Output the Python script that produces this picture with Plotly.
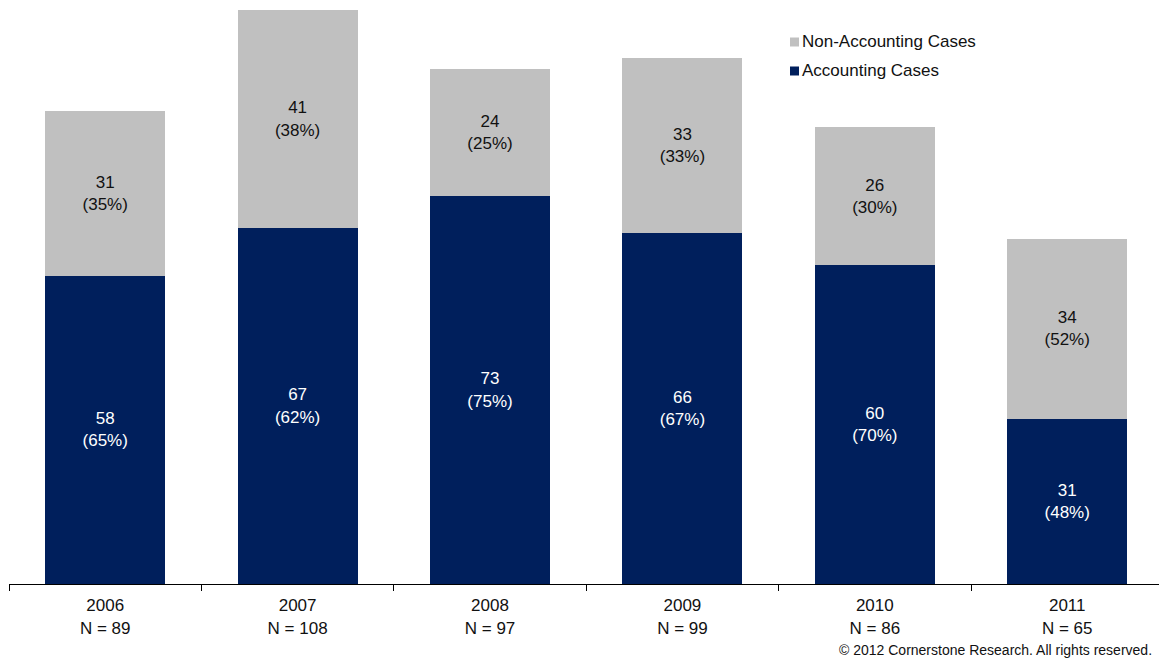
import plotly.graph_objects as go

# Case counts by year
years = ["2006", "2007", "2008", "2009", "2010", "2011"]
accounting = [58, 67, 73, 66, 60, 31]
non_accounting = [31, 41, 24, 33, 26, 34]
accounting_pct = [65, 62, 75, 67, 70, 48]
non_accounting_pct = [35, 38, 25, 33, 30, 52]
totals = [a + n for a, n in zip(accounting, non_accounting)]
tick_labels = [f"{y}<br>N = {t}" for y, t in zip(years, totals)]

NAVY = "#001F5C"
GRAY = "#C0C0C0"
FONT = "Liberation Sans, Arial, sans-serif"
FS = 17

fig = go.Figure()
fig.add_trace(go.Bar(
    x=years, y=accounting, name="Accounting Cases",
    marker=dict(color=NAVY, line=dict(width=0)),
    text=[f"{v}<br>({p}%)" for v, p in zip(accounting, accounting_pct)],
    textposition="inside", insidetextanchor="middle",
    textfont=dict(color="white", size=FS, family=FONT),
    width=0.624, showlegend=False,
))
fig.add_trace(go.Bar(
    x=years, y=non_accounting, name="Non-Accounting Cases",
    marker=dict(color=GRAY, line=dict(width=0)),
    text=[f"{v}<br>({p}%)" for v, p in zip(non_accounting, non_accounting_pct)],
    textposition="inside", insidetextanchor="middle",
    textfont=dict(color="#111111", size=FS, family=FONT),
    width=0.624, showlegend=False,
))

W, H = 1159, 658
ml, mr, mt, mb = 9, 0, 0, 74

fig.update_layout(
    width=W, height=H, barmode="stack",
    margin=dict(l=ml, r=mr, t=mt, b=mb),
    paper_bgcolor="white", plot_bgcolor="white",
    font=dict(family=FONT, size=FS, color="#111111"),
    uniformtext=dict(mode=False),
    xaxis=dict(
        range=[-0.5, 5.477], tickvals=years, ticktext=tick_labels,
        tickson="boundaries", ticks="outside", ticklen=6, tickcolor="black",
        ticklabelstandoff=6,
        showline=True, linecolor="black", linewidth=1,
        showgrid=False, zeroline=False,
        tickfont=dict(size=FS, family=FONT, color="#111111"),
    ),
    yaxis=dict(range=[0, 109.9], visible=False, showgrid=False, zeroline=False),
)

# Legend drawn as swatches plus labels in the upper right
legend_items = [("Non-Accounting Cases", GRAY, 42), ("Accounting Cases", NAVY, 71)]
for label, color, ypix in legend_items:
    fig.add_shape(
        type="rect", xref="paper", yref="paper",
        x0=(790 - ml) / (W - ml - mr), x1=(799 - ml) / (W - ml - mr),
        y0=(H - mb - (ypix + 4.5)) / (H - mt - mb), y1=(H - mb - (ypix - 4.5)) / (H - mt - mb),
        fillcolor=color, line=dict(width=0),
    )
    fig.add_annotation(
        text=label, xref="paper", yref="paper",
        x=(800 - ml) / (W - ml - mr), y=(H - mb - ypix) / (H - mt - mb),
        xanchor="left", yanchor="middle", showarrow=False,
        font=dict(size=FS, family=FONT, color="#111111"),
    )

fig.add_annotation(
    text="© 2012 Cornerstone Research. All rights reserved.",
    xref="paper", yref="paper",
    x=(1154 - ml) / (W - ml - mr), y=(H - mb - 650) / (H - mt - mb),
    xanchor="right", yanchor="middle", showarrow=False,
    font=dict(size=14, family=FONT, color="#111111"),
)

fig.write_html("out.html")
